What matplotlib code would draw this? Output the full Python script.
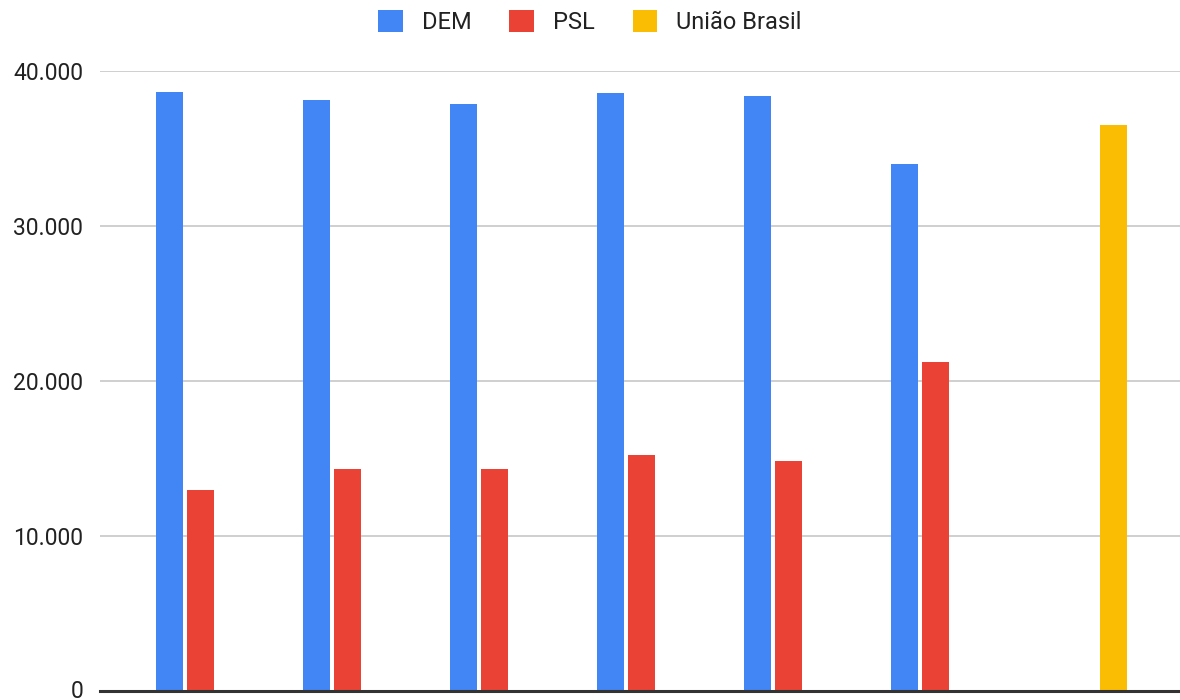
import numpy as np
import matplotlib
matplotlib.use("Agg")
import matplotlib.pyplot as plt
import matplotlib.transforms as mtransforms
from matplotlib.patches import Patch
from matplotlib.ticker import FuncFormatter

plt.rcParams["font.family"] = ["Roboto", "DejaVu Sans"]

# Seven groups (x labels are not shown on this chart)
groups = ["G1", "G2", "G3", "G4", "G5", "G6", "G7"]
series_names = ["DEM", "PSL", "União Brasil"]
dem = [38670, 38130, 37880, 38570, 38410, 33980, np.nan]
psl = [12950, 14290, 14290, 15210, 14820, 21230, np.nan]
uniao = [np.nan, np.nan, np.nan, np.nan, np.nan, np.nan, 36560]
y_ticks = [0, 10000, 20000, 30000, 40000]

colors = ["#4285F4", "#EA4335", "#FBBC04"]

fig = plt.figure(figsize=(11.8, 7.0), dpi=100)
ax = fig.add_axes([100 / 1180, 9.5 / 700, 1080 / 1180, 619.2 / 700])

x = np.arange(len(groups))
slot = 0.2109
width = 0.1837
for i, (vals, name, col) in enumerate(zip([dem, psl, uniao], series_names, colors)):
    ax.bar(x + (i - 1) * slot, vals, width=width, color=col, label=name, zorder=3)

ax.set_xlim(-0.6816, 6.665)
ax.set_ylim(0, 40000)
ax.set_yticks(y_ticks)
ax.yaxis.set_major_formatter(FuncFormatter(lambda v, p: f"{int(v):,}".replace(",", ".")))
ax.set_xticks([])
ax.tick_params(axis="y", length=0, pad=12, labelsize=16.5, labelcolor="#222222")
ax.grid(axis="y", color="#cccccc", linewidth=1.3, zorder=0)
for s in ax.spines.values():
    s.set_visible(False)
ax.axhline(0, color="#333333", linewidth=2.2, zorder=4, clip_on=False)

# lift the baseline label a touch so it stays inside the canvas
fig.canvas.draw()
zero_label = ax.get_yticklabels()[0]
zero_label.set_transform(zero_label.get_transform()
                         + mtransforms.ScaledTranslation(0, 2 / 100, fig.dpi_scale_trans))

handles = [Patch(facecolor=c, edgecolor="none") for c in colors]
fig.legend(handles, series_names, loc="center", bbox_to_anchor=(0.5, 1 - 22 / 700),
           ncol=3, frameon=False, fontsize=17, handlelength=1.05, handleheight=1.05,
           handletextpad=0.8, columnspacing=1.6, labelcolor="#222222")

fig.savefig("out.png", dpi=100, facecolor="white")
